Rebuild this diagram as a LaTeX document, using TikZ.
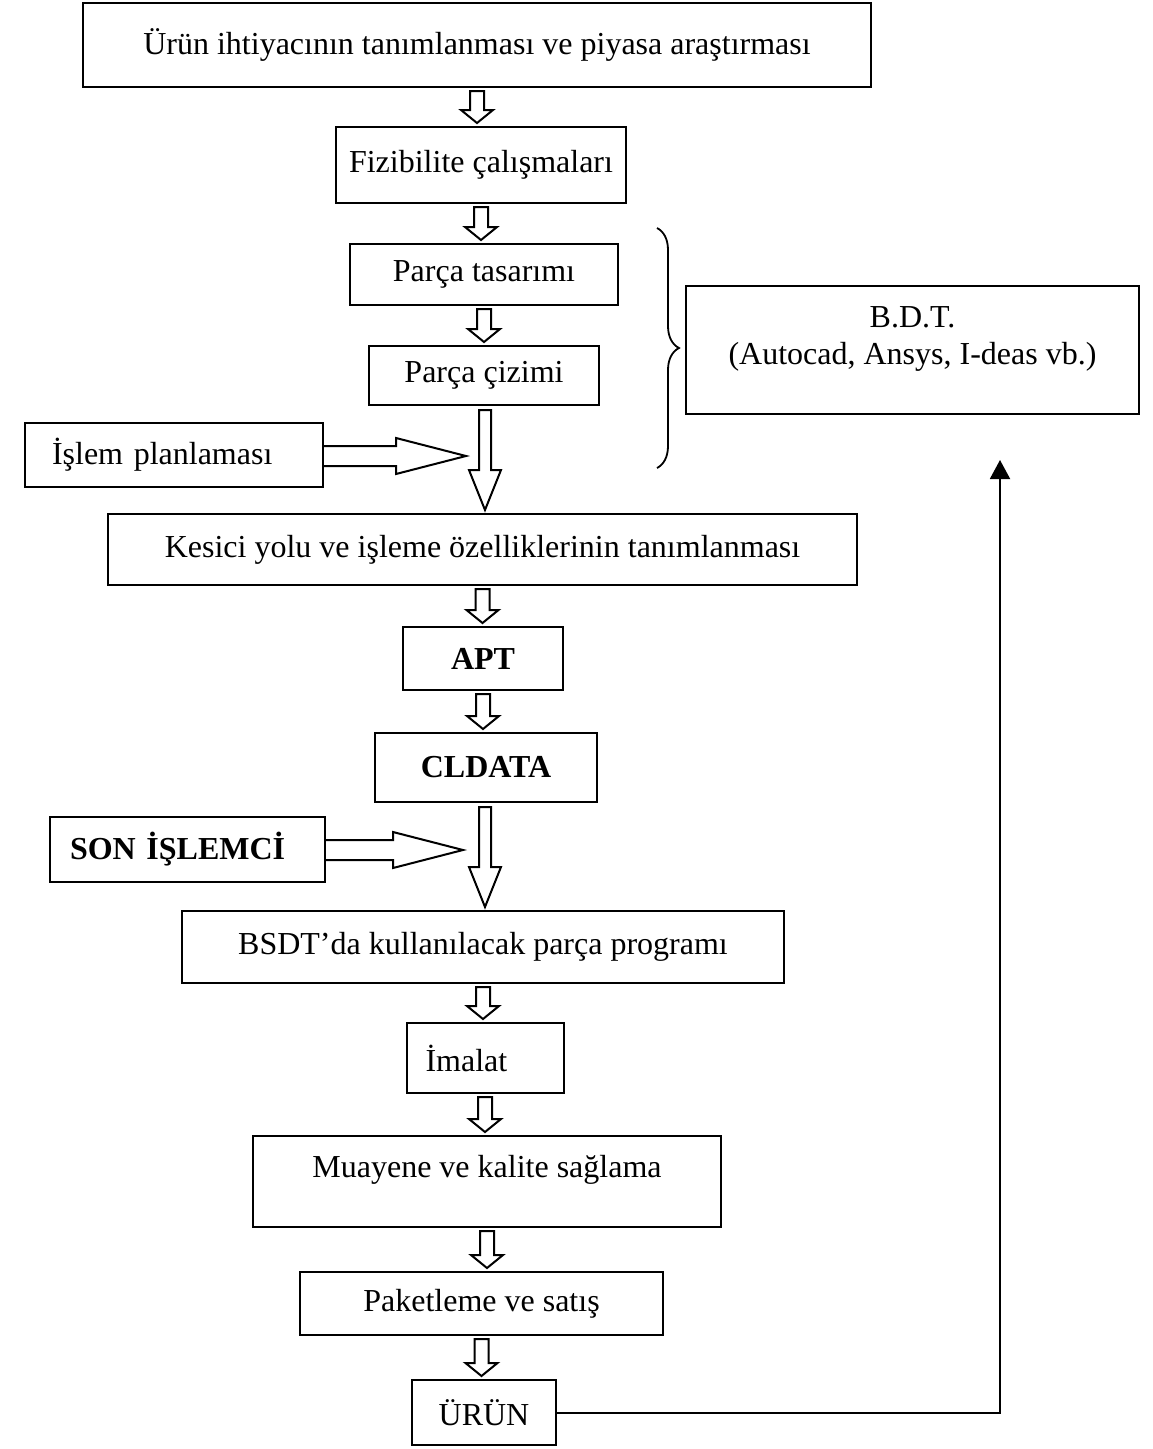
\documentclass[tikz,border=0pt]{standalone}
\usepackage{fontspec}
\setmainfont{Liberation Serif}
\usetikzlibrary{calc,arrows.meta,decorations.pathreplacing}
\newcommand\hdown[2]{%
  \draw[conn] let \p1=($(#1.south)+(0,-3)$), \p2=($(#2.north)+(0,3)$) in
    ({\x1-7pt},\y1) -- ({\x1+7pt},\y1) -- ({\x1+7pt},{\y2+13pt}) -- ({\x1+16pt},{\y2+13pt})
    -- (\x1,\y2) -- ({\x1-16pt},{\y2+13pt}) -- ({\x1-7pt},{\y2+13pt}) -- cycle;}
\newcommand\hlong[3]{% from node #1 to node #2, at x of coordinate #3
  \draw[conn] let \p1=($(#1.south)+(0,-4)$), \p2=($(#2.north)+(0,3)$), \p3=(#3) in
    ({\x3-6pt},\y1) -- ({\x3+6pt},\y1) -- ({\x3+6pt},{\y2+40pt}) -- ({\x3+16pt},{\y2+40pt})
    -- (\x3,\y2) -- ({\x3-16pt},{\y2+40pt}) -- ({\x3-6pt},{\y2+40pt}) -- cycle;}
\newcommand\hside[2]{% from node #1 east to coordinate #2 (tip)
  \draw[conn] let \p1=(#1.east), \p2=(#2) in
    (\x1,{\y2+10pt}) -- ({\x2-70pt},{\y2+10pt}) -- ({\x2-70pt},{\y2+18pt}) -- (\x2,\y2)
    -- ({\x2-70pt},{\y2-18pt}) -- ({\x2-70pt},{\y2-10pt}) -- (\x1,{\y2-10pt});}
\begin{document}
\begin{tikzpicture}[x=1pt,y=1pt,
  txt/.style={font=\fontsize{32}{37}\selectfont},
  box/.style={draw,line width=2pt,inner sep=0pt,txt},
  conn/.style={line width=2pt,line join=miter}]
\useasboundingbox (0,0) rectangle (1152,-1449);
\fill[white] (0,0) rectangle (1152,-1449);
\node[box,minimum width=788,minimum height=84] (b1) at (477,-45) {\raisebox{6pt}{Ürün ihtiyacının tanımlanması ve piyasa araştırması}};
\node[box,minimum width=290,minimum height=76] (b2) at (481,-165) {Fizibilite çalışmaları};
\node[box,minimum width=268,minimum height=61] (b3) at (484,-274.5) {Parça tasarımı};
\node[box,minimum width=230,minimum height=59] (b4) at (484,-375.5) {Parça çizimi};
\node[box,minimum width=298,minimum height=64,text width=244,align=left] (ip) at (174,-455) {İşlem planlaması};
\node[box,minimum width=749,minimum height=71] (b5) at (482.5,-549.5) {Kesici yolu ve işleme özelliklerinin tanımlanması};
\node[box,minimum width=160,minimum height=63,font=\fontsize{32}{37}\selectfont\bfseries] (apt) at (483,-658.5) {APT};
\node[box,minimum width=222,minimum height=69,font=\fontsize{32}{37}\selectfont\bfseries] (cl) at (486,-767.5) {CLDATA};
\node[box,minimum width=275,minimum height=65,text width=235,align=left,font=\fontsize{32}{37}\selectfont\bfseries] (son) at (187.5,-849.5) {SON İŞLEMCİ};
\node[box,minimum width=602,minimum height=72] (bs) at (483,-947) {BSDT’da kullanılacak parça programı};
\node[box,minimum width=157,minimum height=70,text width=119,align=left] (im) at (485,-1058) {İmalat};
\node[box,minimum width=468,minimum height=91,label={[txt,yshift=12pt]center:Muayene ve kalite sağlama}] (mu) at (487,-1181.5) {};
\node[box,minimum width=363,minimum height=63] (pk) at (481.5,-1303.5) {Paketleme ve satış};
\node[box,minimum width=144,minimum height=65] (ur) at (484,-1412.5) {ÜRÜN};
\node[box,minimum width=453,minimum height=128,label={[txt,align=center,yshift=11pt]center:B.D.T.\\(Autocad, Ansys, I-deas vb.)}] (bdt) at (912.5,-350) {};
% hollow arrows
\hdown{b1}{b2}
\hdown{b2}{b3}
\hdown{b3}{b4}
\coordinate (ax1) at (485,0);
\hlong{b4}{b5}{ax1}
\coordinate (t1) at (466,-456);
\hside{ip}{t1}
\hdown{b5}{apt}
\hdown{apt}{cl}
\hlong{cl}{bs}{ax1}
\coordinate (t2) at (463,-850);
\hside{son}{t2}
\hdown{bs}{im}
\hdown{im}{mu}
\hdown{mu}{pk}
\hdown{pk}{ur}
% brace
\coordinate (brt) at (657,-228);
\coordinate (brb) at (657,-468);
\draw[line width=1.8pt,decorate,decoration={brace,amplitude=22pt}] (brt) -- (brb);
% feedback
\coordinate (fb) at (1000,-460);
\draw[line width=2pt,-{Triangle[width=20pt,length=19pt]}] (ur.east) -| (fb);
\end{tikzpicture}
\end{document}
